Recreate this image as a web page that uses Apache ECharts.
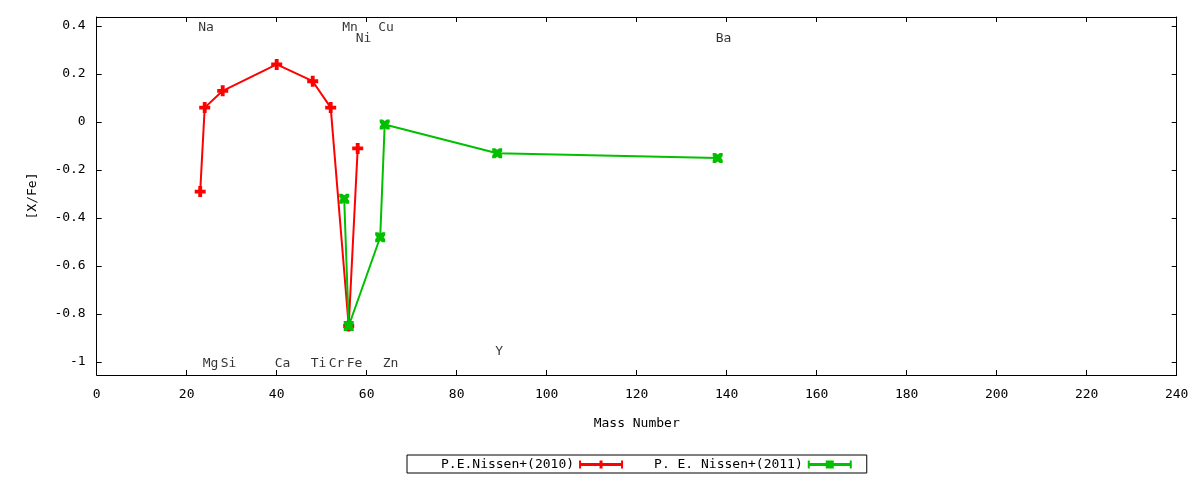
<!DOCTYPE html>
<html>
<head>
<meta charset="utf-8">
<script src="https://cdn.jsdelivr.net/npm/echarts@6/dist/echarts.min.js"></script>
<style>
html,body{margin:0;padding:0;background:#fff;}
#chart{width:1200px;height:480px;}
</style>
</head>
<body>
<div id="chart"></div>
<script>
// Nissen+ (2010)
const mass2010 = [23, 24, 28, 40, 48, 52, 56, 58];
const val2010  = [-0.29, 0.06, 0.13, 0.24, 0.17, 0.06, -0.85, -0.11];
// Nissen+ (2011)
const mass2011 = [55, 56, 63, 64, 89, 138];
const val2011  = [-0.32, -0.85, -0.48, -0.01, -0.13, -0.15];
// element annotations
const elemNames = ['Na', 'Mn', 'Cu', 'Ni', 'Ba', 'Mg', 'Si', 'Ca', 'Ti', 'Cr', 'Fe', 'Zn', 'Y'];
const elemMass  = [23, 55, 63, 58, 138, 24, 28, 40, 48, 52, 56, 64, 89];
const elemY     = [0.4, 0.4, 0.4, 0.355, 0.355, -1.0, -1.0, -1.0, -1.0, -1.0, -1.0, -1.0, -0.95];
const yTicks = [-1, -0.8, -0.6, -0.4, -0.2, 0, 0.2, 0.4];
const seriesNames = ['P.E.Nissen+(2010)', 'P. E. Nissen+(2011)'];

const FONT = 'DejaVu Sans Mono';
const plusPath = 'path://M3.25,0h3.5v3.25h3.25v3.5h-3.25v3.25h-3.5v-3.25h-3.25v-3.5h3.25z';
const xPath = 'path://M0,0L3,0L5,1.5L7,0L10,0L10,3L8.5,5L10,7L10,10L7,10L5,8.5L3,10L0,10L0,7L1.5,5L0,3Z';
const legRed = 'path://M0,0h2v2.5h18.5v-2.5h3v2.5h18.5v-2.5h2v8h-2v-2.5h-18.5v2.5h-3v-2.5h-18.5v2.5h-2z';
const legGreen = 'path://M0,0h2v2.5h16v-2.5h8v2.5h16v-2.5h2v8h-2v-2.5h-16v2.5h-8v-2.5h-16v2.5h-2z';

const zip = (a, b) => a.map((v, i) => [v, b[i]]);

const chart = echarts.init(document.getElementById('chart'));
const axisLine = {show: true, onZero: false, lineStyle: {color: '#000', width: 1}};
chart.setOption({
  animation: false,
  backgroundColor: '#fff',
  textStyle: {fontFamily: FONT},
  grid: {left: 96.7, right: 23.3, top: 17, bottom: 105, containLabel: false},
  xAxis: [{
    type: 'value', min: 0, max: 240, interval: 20,
    name: 'Mass Number', nameLocation: 'middle', nameGap: 42,
    nameTextStyle: {fontFamily: FONT, fontSize: 13, color: '#000'},
    axisLine: axisLine,
    axisTick: {show: true, inside: true, length: 5, lineStyle: {color: '#000'}},
    axisLabel: {fontFamily: FONT, fontSize: 13, color: '#000', margin: 13},
    splitLine: {show: false}
  }, {
    type: 'value', min: 0, max: 240, interval: 20, position: 'top',
    axisLine: axisLine,
    axisTick: {show: true, inside: true, length: 5, lineStyle: {color: '#000'}},
    axisLabel: {show: false}, splitLine: {show: false}
  }],
  yAxis: [{
    type: 'value', min: -1.054, max: 0.4375,
    name: '[X/Fe]', nameLocation: 'middle', nameGap: 58,
    nameTextStyle: {fontFamily: FONT, fontSize: 13, color: '#000'},
    axisLine: axisLine,
    axisTick: {show: true, inside: true, length: 5, customValues: yTicks, lineStyle: {color: '#000'}},
    axisLabel: {fontFamily: FONT, fontSize: 13, color: '#000', margin: 11, customValues: yTicks,
      formatter: v => String(Math.round(v * 10) / 10)},
    splitLine: {show: false}
  }, {
    type: 'value', min: -1.054, max: 0.4375, position: 'right',
    axisLine: axisLine,
    axisTick: {show: true, inside: true, length: 5, customValues: yTicks, lineStyle: {color: '#000'}},
    axisLabel: {show: false}, splitLine: {show: false}
  }],
  legend: {
    left: 407, top: 455,
    data: [
      {name: seriesNames[0], icon: legRed},
      {name: seriesNames[1], icon: legGreen}
    ],
    align: 'right',
    itemWidth: 44, itemHeight: 8, itemGap: 31,
    padding: [3, 15, 2, 34],
    borderColor: '#000', borderWidth: 1, borderRadius: 0,
    textStyle: {fontFamily: FONT, fontSize: 13, color: '#000'}
  },
  series: [
    {
      name: seriesNames[0], type: 'line', data: zip(mass2010, val2010), z: 2,
      symbol: plusPath, symbolSize: 11, showAllSymbol: true,
      itemStyle: {color: '#ff0000'}, lineStyle: {color: '#ff0000', width: 2}
    },
    {
      name: seriesNames[1], type: 'line', data: zip(mass2011, val2011), z: 3,
      symbol: xPath, symbolSize: 10, showAllSymbol: true,
      itemStyle: {color: '#00c000'}, lineStyle: {color: '#00c000', width: 2}
    },
    {
      name: 'labels', type: 'scatter', silent: true, symbolSize: 0,
      data: elemNames.map((n, i) => ({name: n, value: [elemMass[i], elemY[i]]})),
      label: {show: true, position: [-2, 2], align: 'left', verticalAlign: 'middle',
        formatter: p => p.name, fontFamily: FONT, fontSize: 13, color: '#000'}
    }
  ]
});
</script>
</body>
</html>
